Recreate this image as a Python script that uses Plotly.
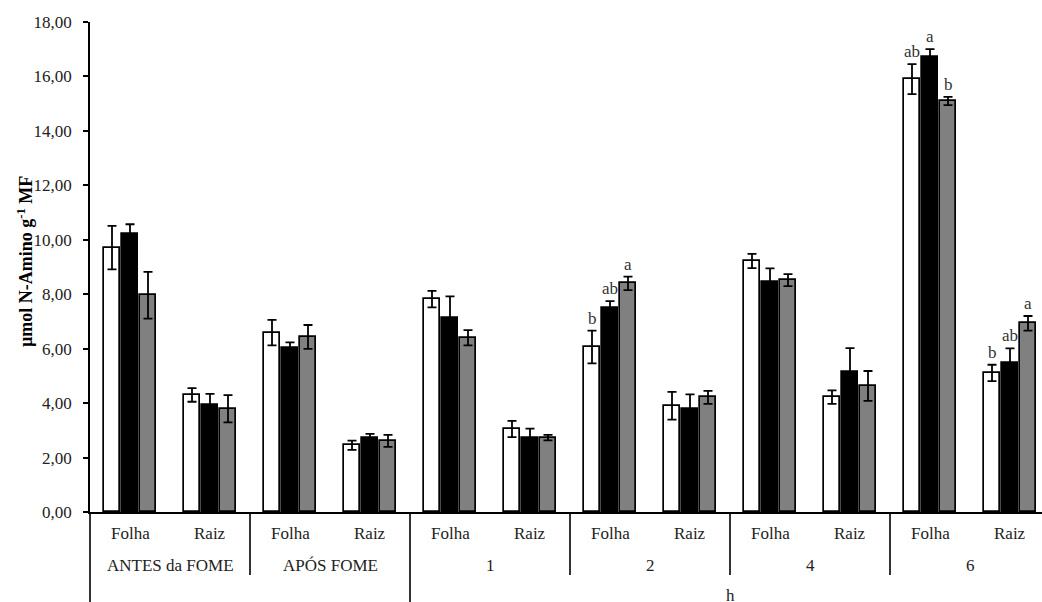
import plotly.graph_objects as go

groups = ["ANTES da FOME", "APÓS FOME", "1", "2", "4", "6"]
tissues = ["Folha", "Raiz"]

white_vals = [9.71, 4.30, 6.59, 2.45, 7.82, 3.05, 6.06, 3.90, 9.22, 4.22, 15.90, 5.11]
white_err = [0.80, 0.25, 0.47, 0.17, 0.30, 0.30, 0.60, 0.51, 0.26, 0.25, 0.55, 0.30]
black_vals = [10.20, 3.94, 6.01, 2.73, 7.14, 2.71, 7.49, 3.78, 8.45, 5.14, 16.70, 5.46]
black_err = [0.37, 0.40, 0.22, 0.14, 0.78, 0.35, 0.26, 0.54, 0.50, 0.88, 0.30, 0.55]
gray_vals = [7.96, 3.79, 6.43, 2.61, 6.40, 2.73, 8.40, 4.21, 8.52, 4.63, 15.10, 6.93]
gray_err = [0.86, 0.50, 0.44, 0.22, 0.28, 0.10, 0.25, 0.24, 0.22, 0.55, 0.15, 0.27]

white_letters = ["", "", "", "", "", "", "b", "", "", "", "ab", "b"]
black_letters = ["", "", "", "", "", "", "ab", "", "", "", "a", "ab"]
gray_letters = ["", "", "", "", "", "", "a", "", "", "", "b", "a"]

y_ticks = [0, 2, 4, 6, 8, 10, 12, 14, 16, 18]
y_title = "<b>µmol N-Amino g<sup>-1</sup> MF</b>"

FONT = "Liberation Serif"
n = len(groups) * len(tissues)
idx = list(range(n))
pitch = 0.225
bw = 0.194
x_lo, x_hi = -0.5, 11.4
left_margin = 90
plot_w = 1042 - left_margin
plot_h = 490.0

series = [
    (white_vals, white_err, white_letters, "#ffffff", -1),
    (black_vals, black_err, black_letters, "#000000", 0),
    (gray_vals, gray_err, gray_letters, "#808080", 1),
]

fig = go.Figure()
annotations = []
for vals, errs, letters, color, k in series:
    xs = [i + k * pitch for i in idx]
    fig.add_trace(go.Bar(
        x=xs, y=vals, width=bw,
        marker=dict(color=color, line=dict(color="#000000", width=1.7)),
        error_y=dict(type="data", array=errs, visible=True, color="#000000",
                     thickness=1.8, width=4.5),
        showlegend=False, hoverinfo="skip",
    ))
    for x, v, e, lt in zip(xs, vals, errs, letters):
        if lt:
            annotations.append(dict(x=x, y=v + e, xref="x", yref="y", text=lt,
                                    showarrow=False, yanchor="bottom", yshift=1,
                                    font=dict(family=FONT, size=17, color="#333333")))

def py(px_below):
    return -px_below / plot_h

# subcategory labels
for i in idx:
    annotations.append(dict(x=i, y=py(21), xref="x", yref="paper", text=tissues[i % 2],
                            showarrow=False, yanchor="middle",
                            font=dict(family=FONT, size=17, color="#222222")))
# group labels
for g, name in enumerate(groups):
    annotations.append(dict(x=2 * g + 0.5, y=py(53), xref="x", yref="paper", text=name,
                            showarrow=False, yanchor="middle",
                            font=dict(family=FONT, size=17, color="#222222")))
# third level "h"
annotations.append(dict(x=(3.5 + 11.5) / 2, y=py(83), xref="x", yref="paper", text="h",
                        showarrow=False, yanchor="middle",
                        font=dict(family=FONT, size=17, color="#222222")))

# y-axis title
annotations.append(dict(x=(25 - left_margin) / plot_w, y=0.51, xref="paper", yref="paper",
                        text=y_title, textangle=-90, showarrow=False,
                        xanchor="center", yanchor="middle",
                        font=dict(family=FONT, size=18, color="#000000")))

def pxr(v):
    return (v - x_lo) / (x_hi - x_lo)

shapes = []
for b, depth in [(-0.5, 92), (1.5, 63), (3.5, 92), (5.5, 63), (7.5, 63), (9.5, 63)]:
    shapes.append(dict(type="line", xref="paper", yref="paper", x0=pxr(b), x1=pxr(b),
                       y0=0, y1=py(depth), line=dict(color="#000000", width=1.6)))

fig.update_layout(
    width=1042, height=602,
    margin=dict(l=left_margin, r=0, t=22, b=90),
    plot_bgcolor="#ffffff", paper_bgcolor="#ffffff",
    separators=",.",
    bargap=0, barmode="overlay",
    annotations=annotations, shapes=shapes,
    font=dict(family=FONT, size=17, color="#222222"),
    xaxis=dict(range=[x_lo, x_hi], showticklabels=False, ticks="", showgrid=False,
               zeroline=False, showline=True, linecolor="#000000", linewidth=1.6),
    yaxis=dict(range=[0, 18], tickvals=y_ticks, tickformat=".2f", ticks="outside",
               ticklen=5, tickwidth=1.6, tickcolor="#000000", showgrid=False,
               zeroline=False, showline=True, linecolor="#000000", linewidth=1.6,
               ticklabelstandoff=8,
               tickfont=dict(family=FONT, size=17, color="#222222")),
)

fig.write_html("out.html", config={"displayModeBar": False},
               post_script="document.body.style.margin='0';")
